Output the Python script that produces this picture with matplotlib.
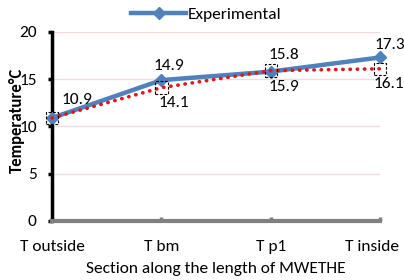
import matplotlib
matplotlib.use("Agg")
import matplotlib.pyplot as plt
from matplotlib.transforms import ScaledTranslation

plt.rcParams['font.family'] = ['Carlito', 'DejaVu Sans']

sections = ["T outside", "T bm", "T p1", "T inside"]
experimental = [10.9, 14.9, 15.8, 17.3]
predicted = [10.9, 14.1, 15.9, 16.1]
yticks = [0, 5, 10, 15, 20]

# label offsets in points (style only)
exp_off = [(7, 8), (-6, 5), (-2, 7), (-4, 4)]
pred_off = [(-2, -6), (-2, -7), (-5, -6)]

fig = plt.figure(figsize=(4.04, 2.8), dpi=100)
ax = fig.add_axes([0.129, 0.211, 0.812, 0.675])

x = list(range(len(sections)))
ax.plot(x, experimental, color="#4f81bd", lw=3.2, marker="D", ms=6.5,
        label="Experimental", zorder=3, clip_on=False)
ax.plot(x, predicted, color="#e0161a", lw=2.6, ls=(0, (0.1, 1.9)),
        dash_capstyle="round", zorder=4, clip_on=False)
ax.scatter(x, predicted, marker="s", s=80, facecolors="none", edgecolors="black",
           linewidths=0.8, linestyles=(0, (2.5, 1.5)), zorder=5, clip_on=False)

for xi, yi, off in zip(x, experimental, exp_off):
    ax.annotate(f"{yi:.1f}", (xi, yi), xytext=off, textcoords="offset points",
                ha="left", va="bottom", fontsize=12.5)
for xi, yi, off in zip(x[1:], predicted[1:], pred_off):
    ax.annotate(f"{yi:.1f}", (xi, yi), xytext=off, textcoords="offset points",
                ha="left", va="top", fontsize=12.5)

ax.set_xlim(0, 3)
ax.set_ylim(0, 20)
ax.set_yticks(yticks)
ax.set_xticks(x)
ax.set_xticklabels(sections, fontsize=12.5)
ax.tick_params(axis="y", labelsize=12.5, length=3, width=2.5, pad=8)
ax.tick_params(axis="x", direction="in", length=3, width=2.5, color="#7f7f7f", pad=13.5)
# shift last tick label left so it stays inside the figure
last = ax.get_xticklabels()[-1]
last.set_transform(last.get_transform() + ScaledTranslation(-8 / 100, 0, fig.dpi_scale_trans))

ax.grid(axis="y", color="#f2dcdb", lw=1)
ax.set_axisbelow(True)

for s in ["top", "right"]:
    ax.spines[s].set_visible(False)
ax.spines["left"].set_linewidth(2.5)
ax.spines["left"].set_color("black")
ax.spines["bottom"].set_linewidth(3)
ax.spines["bottom"].set_color("#808080")

ax.set_ylabel("Temperature°C", fontsize=12, fontweight="bold")
ax.yaxis.set_label_coords(-0.083, 0.53)
ax.set_xlabel("Section along the length of MWETHE", fontsize=12.5, labelpad=6)

ax.legend(loc="center", bbox_to_anchor=(0.47, 1.09), frameon=False,
          fontsize=12.5, handlelength=3.2, handletextpad=0.1, borderpad=0)

fig.savefig("out.png", dpi=100)
